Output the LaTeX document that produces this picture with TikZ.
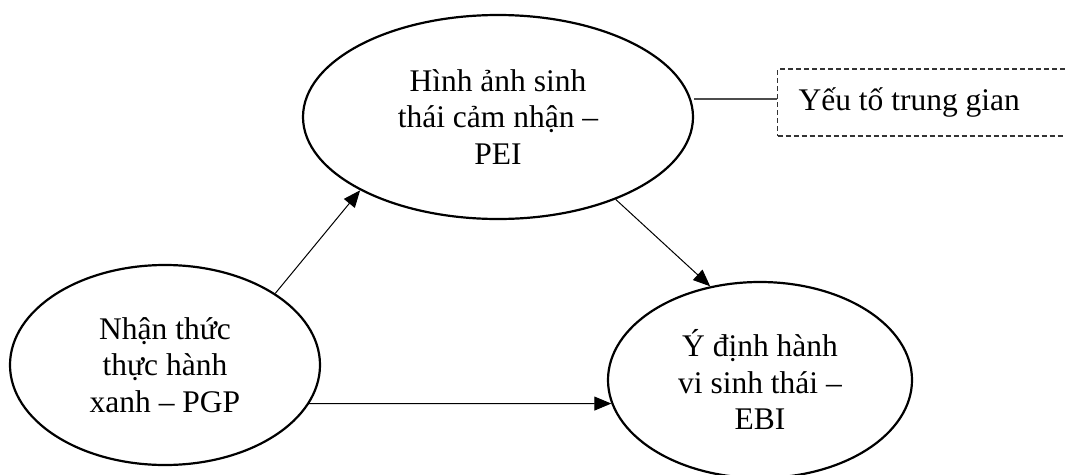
\documentclass[tikz,border=0pt]{standalone}
\usepackage{fontspec}
\setmainfont{Liberation Serif}
\usetikzlibrary{shapes.geometric,arrows.meta}
\begin{document}
\begin{tikzpicture}[x=1pt,y=-1pt,
  txt/.style={font=\fontsize{31.5}{36.5}\selectfont},
  oval/.style={ellipse, draw, line width=2.2pt, inner sep=0pt, align=center, txt},
  arr/.style={line width=1pt, -{Triangle[length=17pt,width=14pt]}},
  midbox/.style={draw=black!80, dash pattern=on 5pt off 3pt, line width=1.2pt,
    minimum height=67pt, text width=272pt, inner xsep=21pt, inner ysep=0pt,
    align=flush left, text height=22pt, text depth=7pt, txt},
  link/.style={line width=1.4pt, draw=black!70}]
\clip (0,0) rectangle (1065,474);
\fill[white] (0,0) rectangle (1065,474);
\node[oval, minimum width=390pt, minimum height=204pt] (pei) at (498,117)
  {Hình ảnh sinh\\thái cảm nhận –\\PEI};
\node[oval, minimum width=310pt, minimum height=200pt] (pgp) at (165,365)
  {Nhận thức\\thực hành\\xanh – PGP};
\node[oval, minimum width=304pt, minimum height=196pt] (ebi) at (760,380)
  {Ý định hành\\vi sinh thái –\\EBI};
\node[midbox, anchor=west] (mid) at (777,102.5) {Yếu tố trung gian};
\draw[arr] (pgp.33) -- (pei.208);
\draw[arr] (pei.-35) -- (ebi.118);
\draw[arr] (pgp.-15) -- (ebi.189);
\coordinate (m) at ([yshift=3.5pt]mid.west);
\draw[link] (m) -- (m -| pei.east);
\end{tikzpicture}
\end{document}
